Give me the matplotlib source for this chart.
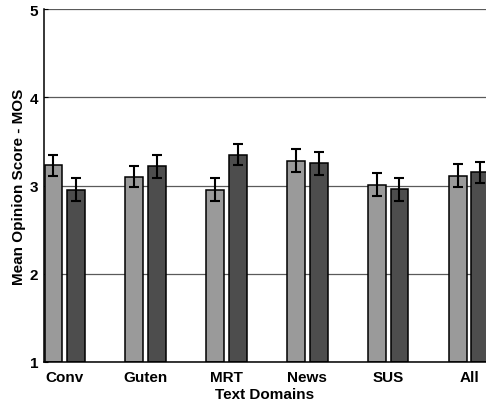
import numpy as np
import matplotlib
matplotlib.use('Agg')
import matplotlib.pyplot as plt

plt.rcParams['font.family'] = ['Liberation Sans', 'DejaVu Sans']
plt.rcParams['font.weight'] = 'bold'

# MOS per text domain, two systems, with error bar half-widths
domains = ['Conv', 'Guten', 'MRT', 'News', 'SUS', 'All']
mos_a = [3.23, 3.10, 2.95, 3.28, 3.01, 3.11]
mos_b = [2.95, 3.22, 3.35, 3.25, 2.96, 3.15]
err_a = [0.12, 0.12, 0.13, 0.13, 0.13, 0.13]
err_b = [0.13, 0.13, 0.12, 0.13, 0.13, 0.12]
yticks = [1, 2, 3, 4, 5]

fig = plt.figure(figsize=(4.86, 4.02), dpi=100)
ax = fig.add_axes([44 / 486, 39 / 402, 1 - 44 / 486, 353 / 402])

x = np.arange(1, len(domains) + 1)
width = 0.22
offset = 0.14

base = 1.0
ax.bar(x - offset, np.array(mos_a) - base, width, bottom=base,
       color='#9a9a9a', edgecolor='black', linewidth=1.1, zorder=2)
ax.bar(x + offset, np.array(mos_b) - base, width, bottom=base,
       color='#4d4d4d', edgecolor='black', linewidth=1.1, zorder=2)
ax.errorbar(x - offset, mos_a, yerr=err_a, fmt='none', ecolor='black',
            elinewidth=1.5, capsize=3.3, capthick=1.5, zorder=3)
ax.errorbar(x + offset, mos_b, yerr=err_b, fmt='none', ecolor='black',
            elinewidth=1.5, capsize=3.3, capthick=1.5, zorder=3)

ax.set_xlim(0.743, 6.21)
ax.set_ylim(1, 5)
ax.set_yticks(yticks)
ax.set_xticks(x)
ax.set_xticklabels(domains, fontsize=11, fontweight='bold')
ax.set_yticklabels([str(t) for t in yticks], fontsize=11, fontweight='bold')

ax.yaxis.grid(True, color='#5a5a5a', linewidth=0.9)
ax.set_axisbelow(True)
ax.tick_params(axis='x', length=0, pad=5.5)
ax.tick_params(axis='y', direction='in', length=3, pad=4)

for side in ['top', 'right']:
    ax.spines[side].set_visible(False)
for side in ['left', 'bottom']:
    ax.spines[side].set_linewidth(1.1)
    ax.spines[side].set_color('black')

ax.set_xlabel('Text Domains', fontsize=11, fontweight='bold', labelpad=2.5)
ax.set_ylabel('Mean Opinion Score - MOS', fontsize=11, fontweight='bold',
              labelpad=3)

fig.savefig('out.png', dpi=100)
